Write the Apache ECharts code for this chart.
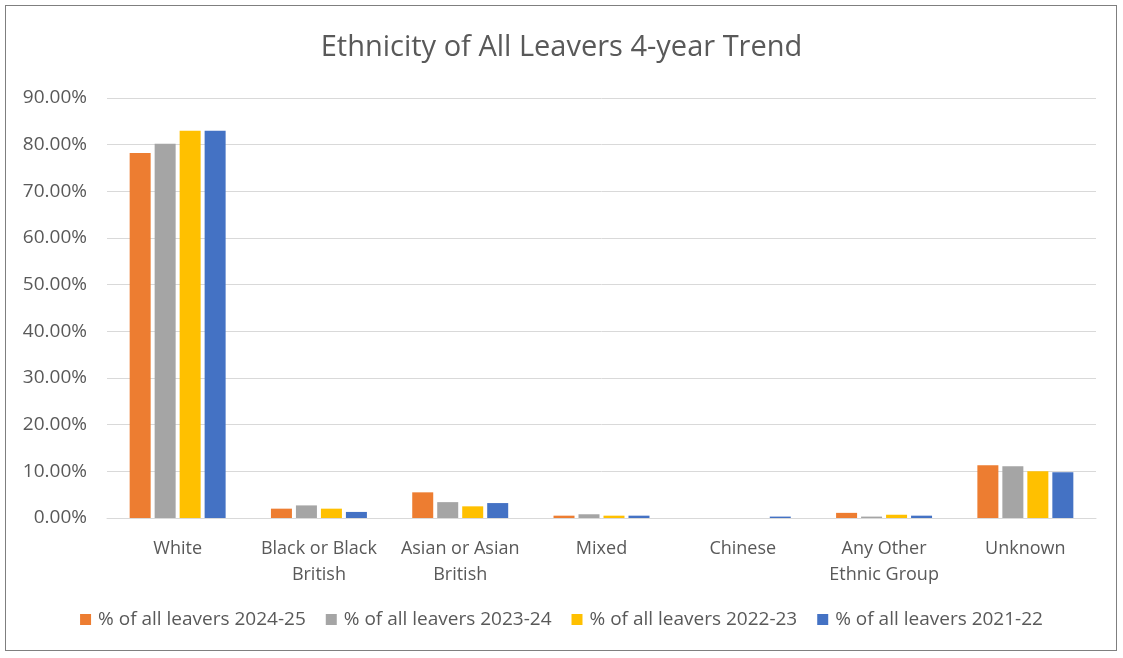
<!DOCTYPE html>
<html>
<head>
<meta charset="utf-8">
<script src="https://cdn.jsdelivr.net/npm/echarts@6/dist/echarts.min.js"></script>
<style>
  html, body { margin: 0; padding: 0; background: #ffffff; }
  #frame { position: absolute; left: 5px; top: 5px; width: 1112px; height: 646px; border: 1px solid #7f7f7f; box-sizing: border-box; }
  #chart { position: absolute; left: 0; top: 0; width: 1123px; height: 658px; }
</style>
</head>
<body>
<div id="frame"></div>
<div id="chart"></div>
<script>
// Ethnic groups (category axis)
const categories = ['White', 'Black or Black\nBritish', 'Asian or Asian\nBritish', 'Mixed', 'Chinese', 'Any Other\nEthnic Group', 'Unknown'];

// Share of all leavers per year (%)
const leavers2425 = [78.2, 2.0, 5.5, 0.5, 0.0, 1.1, 11.3];
const leavers2324 = [80.2, 2.7, 3.4, 0.8, 0.0, 0.3, 11.1];
const leavers2223 = [83.0, 2.0, 2.5, 0.5, 0.0, 0.7, 10.0];
const leavers2122 = [83.0, 1.3, 3.2, 0.5, 0.3, 0.5, 9.8];

const seriesNames = ['% of all leavers 2024-25', '% of all leavers 2023-24', '% of all leavers 2022-23', '% of all leavers 2021-22'];
const seriesData = [leavers2425, leavers2324, leavers2223, leavers2122];
const colors = ['#ed7d31', '#a5a5a5', '#ffc000', '#4472c4'];

const font = '"Open Sans", sans-serif';
const chart = echarts.init(document.getElementById('chart'), null, { renderer: 'canvas' });

chart.setOption({
  animation: false,
  color: colors,
  title: {
    text: 'Ethnicity of All Leavers 4-year Trend',
    left: 'center',
    top: 28,
    textStyle: { fontFamily: font, fontSize: 29, fontWeight: 'normal', color: '#595959' }
  },
  legend: {
    bottom: 24,
    left: 'center',
    itemWidth: 11,
    itemHeight: 11,
    itemGap: 20,
    icon: 'rect',
    textStyle: { fontFamily: font, fontSize: 19, color: '#595959', padding: [0, 0, 0, 2] },
    data: seriesNames
  },
  grid: { left: 107, right: 27, top: 98, bottom: 140, containLabel: false },
  xAxis: {
    type: 'category',
    data: categories,
    axisLine: { lineStyle: { color: '#d9d9d9', width: 1 } },
    axisTick: { show: false },
    axisLabel: { fontFamily: font, fontSize: 18, color: '#595959', lineHeight: 26, margin: 18, interval: 0 }
  },
  yAxis: {
    type: 'value',
    min: 0,
    max: 90,
    interval: 10,
    axisLine: { show: false },
    axisTick: { show: false },
    splitLine: { lineStyle: { color: '#d9d9d9', width: 1 } },
    axisLabel: {
      fontFamily: font, fontSize: 19, color: '#595959', margin: 20,
      formatter: v => v.toFixed(2) + '%'
    }
  },
  series: seriesNames.map((name, i) => ({
    name,
    type: 'bar',
    data: seriesData[i],
    barWidth: 21,
    barGap: '19%',
    itemStyle: { color: colors[i] }
  }))
});
</script>
</body>
</html>
